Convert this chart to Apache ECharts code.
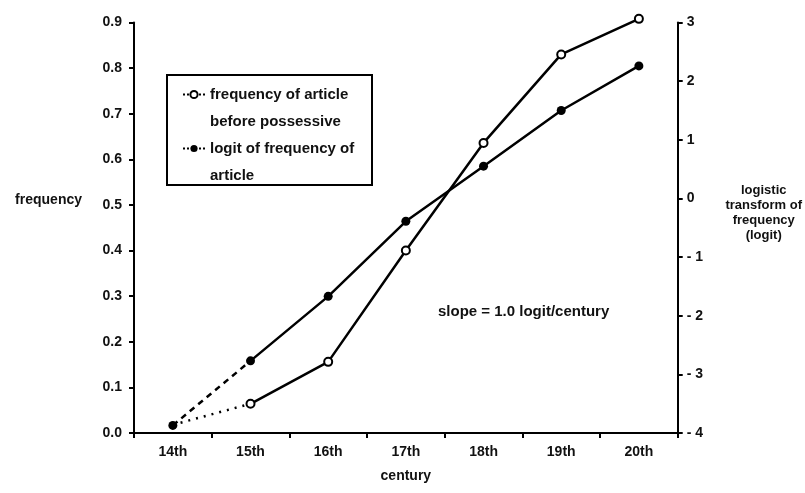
<!DOCTYPE html>
<html>
<head>
<meta charset="utf-8">
<script src="https://cdn.jsdelivr.net/npm/echarts@6/dist/echarts.min.js"></script>
<style>
html,body{margin:0;padding:0;background:#fff;}
#chart{width:805px;height:493px;}
</style>
</head>
<body>
<div id="chart"></div>
<script>
const categories = ['14th', '15th', '16th', '17th', '18th', '19th', '20th'];
// frequency of article before possessive (left axis)
const frequency = [0.018, 0.064, 0.156, 0.40, 0.636, 0.83, 0.908];
// logit of frequency of article (right axis)
const logit = [-3.87, -2.77, -1.67, -0.39, 0.55, 1.50, 2.26];
const freqName = 'frequency of article\nbefore possessive';
const logitName = 'logit of frequency of\narticle';

const freqSolid = frequency.map((v, i) => (i >= 1 ? v : null));
const freqDotted = frequency.map((v, i) => (i <= 1 ? v : null));
const logitSolid = logit.map((v, i) => (i >= 1 ? v : null));
const logitDashed = logit.map((v, i) => (i <= 1 ? v : null));

const FONT = 'Liberation Sans';
const txt = { fontFamily: FONT, fontSize: 14, fontWeight: 'bold', color: '#111' };

const chart = echarts.init(document.getElementById('chart'));
chart.setOption({
  animation: false,
  backgroundColor: '#fff',
  grid: { left: 134, right: 126, top: 22.5, bottom: 60, containLabel: false },
  legend: {
    orient: 'vertical',
    left: 182,
    top: 54,
    padding: 0,
    itemGap: -27,
    itemWidth: 22,
    itemHeight: 9,
    data: [freqName, logitName],
    formatter: name => '\n' + name,
    lineStyle: { type: 'dotted', width: 2 },
    textStyle: Object.assign({}, txt, { fontSize: 15, lineHeight: 27 })
  },
  xAxis: {
    type: 'category',
    data: categories,
    boundaryGap: true,
    name: 'century',
    nameLocation: 'middle',
    nameGap: 36,
    nameTextStyle: txt,
    axisLine: { lineStyle: { color: '#000', width: 2 } },
    axisTick: { show: true, length: 5, lineStyle: { color: '#000', width: 2 } },
    axisLabel: Object.assign({}, txt, { margin: 12 }),
    splitLine: { show: false }
  },
  yAxis: [
    {
      type: 'value',
      min: 0, max: 0.9, interval: 0.1,
      position: 'left',
      name: 'frequency\n\n',
      nameLocation: 'middle',
      nameRotate: 0,
      nameGap: 52,
      nameTextStyle: Object.assign({}, txt, { lineHeight: 28 }),
      axisLine: { show: true, lineStyle: { color: '#000', width: 2 } },
      axisTick: { show: true, length: 5, lineStyle: { color: '#000', width: 2 } },
      axisLabel: Object.assign({}, txt, { margin: 12, formatter: v => v.toFixed(1) }),
      splitLine: { show: false }
    },
    {
      type: 'value',
      min: -4, max: 3, interval: 1,
      position: 'right',
      name: 'logistic\ntransform of\nfrequency\n(logit)\n\n',
      nameLocation: 'middle',
      nameRotate: 0,
      nameGap: 86,
      nameTextStyle: Object.assign({}, txt, { fontSize: 13, align: 'center', lineHeight: 15 }),
      axisLine: { show: true, lineStyle: { color: '#000', width: 2 } },
      axisTick: { show: true, length: 5, lineStyle: { color: '#000', width: 2 } },
      axisLabel: Object.assign({}, txt, { margin: 9, formatter: v => (v < 0 ? '- ' + Math.abs(v) : String(v)) }),
      splitLine: { show: false }
    }
  ],
  graphic: [
    {
      type: 'rect',
      shape: { x: 167, y: 75, width: 205, height: 110 },
      style: { fill: 'none', stroke: '#000', lineWidth: 2 },
      z: 10
    },
    {
      type: 'text',
      left: 438, top: 304,
      style: { text: 'slope = 1.0 logit/century', font: 'bold 15px "Liberation Sans"', fill: '#111' }
    }
  ],
  series: [
    {
      name: freqName,
      type: 'line',
      yAxisIndex: 0,
      data: freqSolid,
      clip: false,
      symbol: 'emptyCircle',
      symbolSize: 8,
      itemStyle: { color: '#000', borderColor: '#000', borderWidth: 1.5 },
      lineStyle: { color: '#000', width: 2.5 },
      z: 5
    },
    {
      name: 'freqDotted',
      type: 'line',
      yAxisIndex: 0,
      data: freqDotted,
      clip: false,
      symbol: 'none',
      lineStyle: { color: '#000', width: 2.5, type: [2, 6] },
      z: 3
    },
    {
      name: logitName,
      type: 'line',
      yAxisIndex: 1,
      data: logitSolid,
      clip: false,
      symbol: 'circle',
      symbolSize: 9,
      itemStyle: { color: '#000' },
      lineStyle: { color: '#000', width: 2.5 },
      z: 5
    },
    {
      name: 'logitDashed',
      type: 'line',
      yAxisIndex: 1,
      data: logitDashed.map((v, i) => (i === 0 ? { value: v, symbol: 'circle', symbolSize: 9 } : { value: v, symbol: 'none' })),
      clip: false,
      itemStyle: { color: '#000' },
      lineStyle: { color: '#000', width: 2.5, type: [6, 5] },
      z: 4
    }
  ]
});
</script>
</body>
</html>
